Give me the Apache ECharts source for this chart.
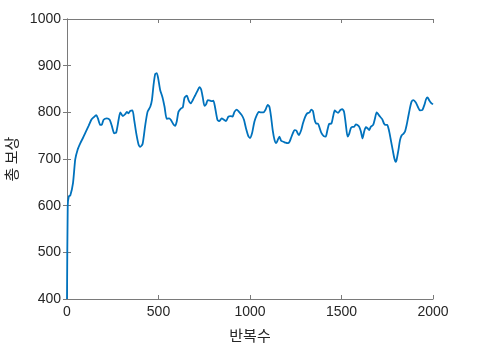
<!DOCTYPE html>
<html>
<head>
<meta charset="utf-8">
<script src="https://cdn.jsdelivr.net/npm/echarts@6/dist/echarts.min.js"></script>
<style>
  html, body { margin: 0; padding: 0; background: #fff; }
  #chart { width: 479px; height: 350px; }
</style>
</head>
<body>
<div id="chart"></div>
<script>
// episode index and total reward
var episodes = [0, 4, 10, 18, 33, 45, 58, 73, 87, 100, 118, 133, 145, 160, 169, 182, 191, 200, 218, 233,
  245, 258, 269, 282, 291, 305, 318, 327, 336, 345, 358, 367, 378, 391, 400, 413, 427, 440, 455, 464,
  473, 482, 491, 500, 509, 522, 533, 545, 558, 567, 582, 591, 600, 609, 622, 633, 642, 655, 664, 676,
  687, 700, 713, 724, 733, 742, 751, 760, 769, 782, 791, 800, 809, 822, 833, 845, 858, 869, 882, 895,
  905, 915, 927, 940, 955, 967, 978, 991, 1000, 1011, 1024, 1037, 1048, 1060, 1073, 1084, 1097, 1106, 1115, 1124,
  1134, 1143, 1152, 1161, 1170, 1183, 1194, 1207, 1216, 1225, 1234, 1243, 1253, 1267, 1280, 1289, 1302, 1313, 1326, 1335,
  1344, 1353, 1362, 1371, 1381, 1390, 1403, 1414, 1423, 1432, 1445, 1454, 1463, 1472, 1481, 1494, 1505, 1514, 1523, 1533,
  1542, 1551, 1560, 1569, 1578, 1587, 1597, 1606, 1615, 1624, 1633, 1642, 1651, 1660, 1673, 1683, 1692, 1701, 1710, 1723,
  1732, 1741, 1750, 1759, 1768, 1780, 1789, 1796, 1801, 1811, 1820, 1829, 1838, 1847, 1856, 1865, 1874, 1883, 1893, 1906,
  1917, 1929, 1942, 1953, 1962, 1970, 1979, 1988, 2000];
var rewards = [400, 600, 620, 622, 649, 699, 720, 734, 745, 756, 771, 784, 789, 794, 787, 773, 774, 784, 787, 784,
  771, 755, 757, 784, 800, 792, 796, 801, 798, 803, 804, 784, 756, 731, 726, 732, 771, 801, 812, 826,
  859, 882, 884, 869, 848, 832, 812, 786, 787, 784, 774, 771, 781, 801, 808, 811, 831, 836, 826, 819,
  826, 836, 846, 854, 849, 832, 814, 817, 826, 825, 824, 825, 811, 784, 781, 787, 784, 781, 791, 792,
  791, 801, 806, 801, 794, 784, 766, 749, 745, 755, 780, 794, 801, 800, 800, 805, 816, 812, 791, 762,
  741, 734, 741, 748, 739, 737, 735, 734, 737, 746, 755, 762, 761, 751, 762, 776, 791, 798, 800, 806,
  803, 784, 776, 776, 766, 756, 749, 748, 762, 775, 776, 791, 804, 801, 799, 805, 807, 801, 776, 748,
  754, 766, 769, 769, 774, 773, 769, 759, 744, 759, 768, 766, 762, 769, 773, 787, 800, 796, 791, 785,
  776, 773, 773, 762, 744, 719, 701, 694, 698, 719, 741, 751, 754, 759, 773, 791, 809, 823, 826, 821,
  812, 804, 805, 816, 828, 832, 826, 821, 817];
var xTicks = [0, 500, 1000, 1500, 2000];
var yTicks = [400, 500, 600, 700, 800, 900, 1000];

var points = episodes.map(function (x, i) { return [x, rewards[i]]; });

var chart = echarts.init(document.getElementById('chart'));
var axisColor = '#7a7a7a';
var textColor = '#262626';
var font = 'Liberation Sans, Arial, sans-serif';
var plain = function (v) { return String(v); };

var options = {
  animation: false,
  grid: { left: 67, right: 46, top: 19, bottom: 51, containLabel: false, outerBoundsMode: 'none' },
  xAxis: [
    {
      type: 'value',
      min: xTicks[0],
      max: xTicks[xTicks.length - 1],
      interval: 500,
      name: '반복수',
      nameLocation: 'middle',
      nameGap: 29,
      nameTextStyle: { color: textColor, fontSize: 15, fontFamily: 'Noto Sans CJK KR' },
      axisLine: { lineStyle: { color: axisColor, width: 1 } },
      axisTick: { inside: true, length: 4, lineStyle: { color: axisColor } },
      axisLabel: { color: textColor, fontSize: 14, fontFamily: font, margin: 6, formatter: plain },
      splitLine: { show: false }
    },
    {
      type: 'value',
      position: 'top',
      min: xTicks[0],
      max: xTicks[xTicks.length - 1],
      interval: 500,
      axisLine: { lineStyle: { color: axisColor, width: 1 } },
      axisTick: { inside: true, length: 4, lineStyle: { color: axisColor } },
      axisLabel: { show: false },
      splitLine: { show: false }
    }
  ],
  yAxis: [
    {
      type: 'value',
      min: yTicks[0],
      max: yTicks[yTicks.length - 1],
      interval: 100,
      name: '총 보상',
      nameLocation: 'middle',
      nameGap: 43,
      nameTextStyle: { color: textColor, fontSize: 15, fontFamily: 'Noto Sans CJK KR' },
      axisLine: { show: true, lineStyle: { color: axisColor, width: 1 } },
      axisTick: { show: true, inside: true, length: 4, lineStyle: { color: axisColor } },
      axisLabel: { color: textColor, fontSize: 14, fontFamily: font, margin: 6, formatter: plain },
      splitLine: { show: false }
    },
    {
      type: 'value',
      position: 'right',
      min: yTicks[0],
      max: yTicks[yTicks.length - 1],
      interval: 100,
      axisLine: { show: true, lineStyle: { color: axisColor, width: 1 } },
      axisTick: { show: true, inside: true, length: 4, lineStyle: { color: axisColor } },
      axisLabel: { show: false },
      splitLine: { show: false }
    }
  ],
  series: [
    {
      type: 'line',
      data: points,
      smooth: 0.2,
      showSymbol: false,
      lineStyle: { color: '#0072BD', width: 1.8 }
    }
  ]
};

chart.setOption(options);
</script>
</body>
</html>
